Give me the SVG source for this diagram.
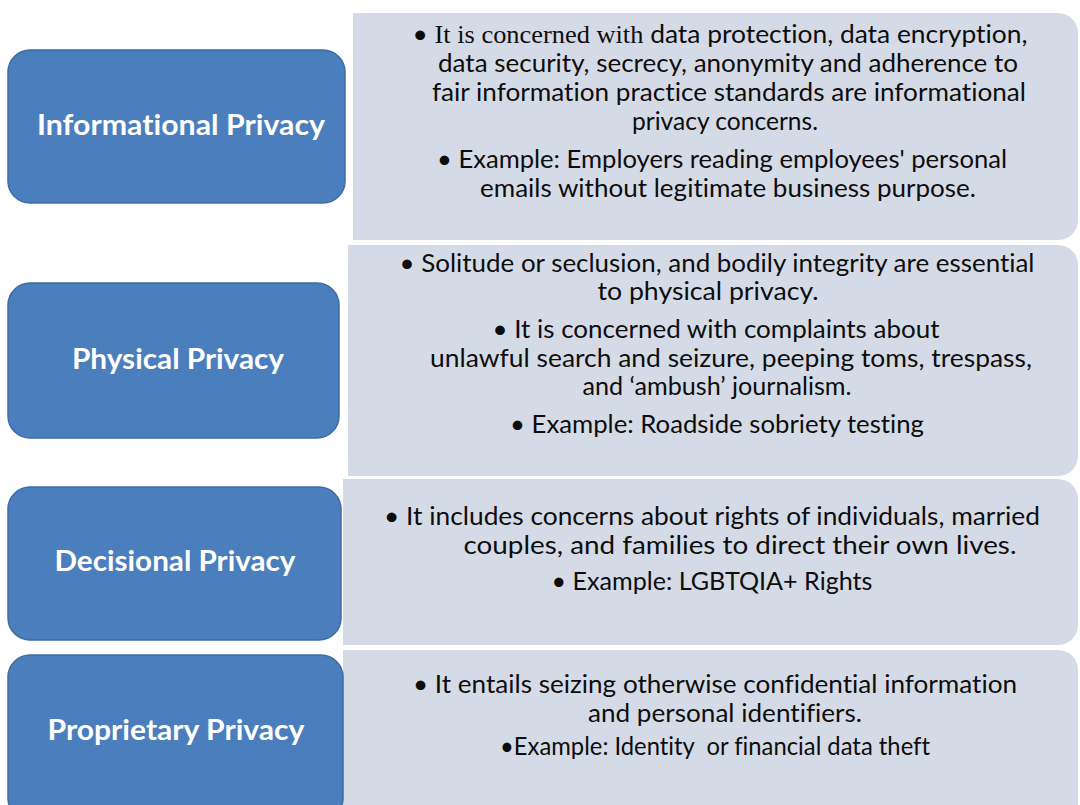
<svg xmlns="http://www.w3.org/2000/svg" width="1080" height="805" viewBox="0 0 1080 805">
  <style>
    .label { fill: #4b7ebc; stroke: #3e6ca6; stroke-width: 1.5; }
    .panel { fill: #d5dbe6; }
    .ltxt { font-family: Lato, "Open Sans", "Liberation Sans", sans-serif; font-weight: 700; font-size: 28px; fill: #ffffff; text-anchor: middle; font-variant-ligatures: none; }
    .ptxt { font-family: Lato, "Open Sans", "Liberation Sans", sans-serif; font-size: 25px; fill: #0d0d0d; text-anchor: middle; font-variant-ligatures: none; }
    .serif { font-family: "Liberation Serif", serif; }
  </style>
  <rect width="1080" height="805" fill="#ffffff"/>

  <!-- Informational privacy -->
  <g id="informational">
    <path class="panel" d="M353,13 H1058 A20,20 0 0 1 1078,33 V220 A20,20 0 0 1 1058,240 H353 Z"/>
    <rect class="label" x="8" y="50" width="337" height="153" rx="22"/>
    <text class="ltxt" x="181" y="135" textLength="288" lengthAdjust="spacingAndGlyphs">Informational Privacy</text>
    <text class="ptxt" x="720" y="43" textLength="615" lengthAdjust="spacingAndGlyphs">• <tspan class="serif">It is concerned with</tspan> data protection, data encryption,</text>
    <text class="ptxt" x="728" y="72" textLength="580" lengthAdjust="spacingAndGlyphs">data security, secrecy, anonymity and adherence to</text>
    <text class="ptxt" x="729" y="101" textLength="594" lengthAdjust="spacingAndGlyphs">fair information practice standards are informational</text>
    <text class="ptxt" x="725" y="130" textLength="186" lengthAdjust="spacingAndGlyphs">privacy concerns.</text>
    <text class="ptxt" x="722" y="168" textLength="570" lengthAdjust="spacingAndGlyphs">• Example: Employers reading employees' personal</text>
    <text class="ptxt" x="728" y="197" textLength="496" lengthAdjust="spacingAndGlyphs">emails without legitimate business purpose.</text>
  </g>

  <!-- Physical privacy -->
  <g id="physical">
    <path class="panel" d="M348,245 H1058 A20,20 0 0 1 1078,265 V456 A20,20 0 0 1 1058,476 H348 Z"/>
    <rect class="label" x="8" y="283" width="331" height="155" rx="22"/>
    <text class="ltxt" x="178" y="369" textLength="212" lengthAdjust="spacingAndGlyphs">Physical Privacy</text>
    <text class="ptxt" x="717" y="272" textLength="635" lengthAdjust="spacingAndGlyphs">• Solitude or seclusion, and bodily integrity are essential</text>
    <text class="ptxt" x="708" y="300" textLength="221" lengthAdjust="spacingAndGlyphs">to physical privacy.</text>
    <text class="ptxt" x="716" y="338" textLength="447" lengthAdjust="spacingAndGlyphs">• It is concerned with complaints about</text>
    <text class="ptxt" x="731" y="367" textLength="602" lengthAdjust="spacingAndGlyphs">unlawful search and seizure, peeping toms, trespass,</text>
    <text class="ptxt" x="717" y="395" textLength="269" lengthAdjust="spacingAndGlyphs">and ‘ambush’ journalism.</text>
    <text class="ptxt" x="717" y="433" textLength="414" lengthAdjust="spacingAndGlyphs">• Example: Roadside sobriety testing</text>
  </g>

  <!-- Decisional privacy -->
  <g id="decisional">
    <path class="panel" d="M343,479 H1058 A20,20 0 0 1 1078,499 V625 A20,20 0 0 1 1058,645 H343 Z"/>
    <rect class="label" x="8" y="487" width="333" height="153" rx="22"/>
    <text class="ltxt" x="175" y="571" textLength="241" lengthAdjust="spacingAndGlyphs">Decisional Privacy</text>
    <text class="ptxt" x="712" y="525" textLength="656" lengthAdjust="spacingAndGlyphs">• It includes concerns about rights of individuals, married</text>
    <text class="ptxt" x="740" y="554" textLength="553" lengthAdjust="spacingAndGlyphs">couples, and families to direct their own lives.</text>
    <text class="ptxt" x="712" y="590" textLength="321" lengthAdjust="spacingAndGlyphs">• Example: LGBTQIA+ Rights</text>
  </g>

  <!-- Proprietary privacy -->
  <g id="proprietary">
    <path class="panel" d="M343,650 H1058 A20,20 0 0 1 1078,670 V815 H343 Z"/>
    <rect class="label" x="8" y="655" width="335" height="165" rx="22"/>
    <text class="ltxt" x="176" y="740" textLength="257" lengthAdjust="spacingAndGlyphs">Proprietary Privacy</text>
    <text class="ptxt" x="715" y="693" textLength="604" lengthAdjust="spacingAndGlyphs">• It entails seizing otherwise confidential information</text>
    <text class="ptxt" x="725" y="722" textLength="274" lengthAdjust="spacingAndGlyphs">and personal identifiers.</text>
    <text class="ptxt" x="715" y="755" textLength="430" lengthAdjust="spacingAndGlyphs" xml:space="preserve">•Example: Identity  or financial data theft</text>
  </g>
</svg>
